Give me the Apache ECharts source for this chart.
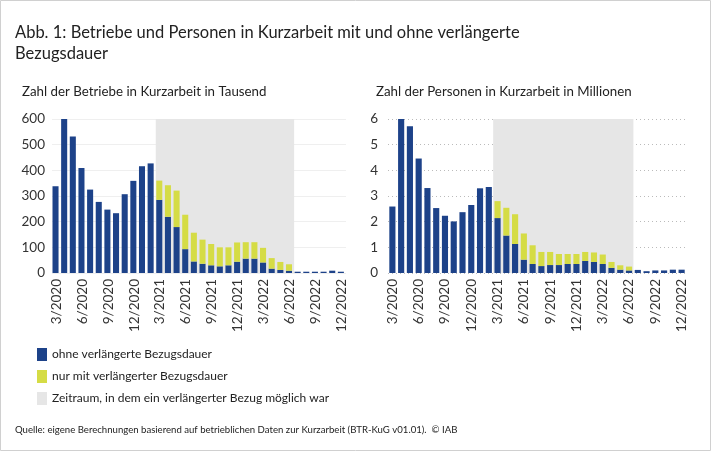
<!DOCTYPE html>
<html>
<head>
<meta charset="utf-8">
<script src="https://cdn.jsdelivr.net/npm/echarts@6/dist/echarts.min.js"></script>
<style>
  html, body { margin: 0; padding: 0; background: #fff; }
  #chart { width: 711px; height: 451px; }
</style>
</head>
<body>
<div id="chart"></div>
<script>
// months 3/2020 .. 12/2022
var months = [
  '3/2020','4/2020','5/2020','6/2020','7/2020','8/2020','9/2020','10/2020','11/2020','12/2020',
  '1/2021','2/2021','3/2021','4/2021','5/2021','6/2021','7/2021','8/2021','9/2021','10/2021','11/2021','12/2021',
  '1/2022','2/2022','3/2022','4/2022','5/2022','6/2022','7/2022','8/2022','9/2022','10/2022','11/2022','12/2022'
];

// Betriebe in Tausend
var betriebeOhne = [338,605,532,409,325,277,247,233,307,359,416,427,
  285,219,179,93,45,36,30,26,30,44,56,56,41,17,12,9,5,5,5,5,9,5];
var betriebeNurMit = [0,0,0,0,0,0,0,0,0,0,0,0,
  75,123,142,134,112,94,83,74,70,75,64,64,57,41,31,25,0,0,0,0,0,0];

// Personen in Millionen
var personenOhne = [2.59,6.0,5.72,4.46,3.31,2.53,2.23,2.01,2.37,2.65,3.30,3.35,
  2.14,1.46,1.13,0.52,0.35,0.27,0.31,0.31,0.35,0.35,0.47,0.43,0.35,0.20,0.13,0.10,0.12,0.07,0.10,0.10,0.13,0.13];
var personenNurMit = [0,0,0,0,0,0,0,0,0,0,0,0,
  0.66,1.08,1.16,1.02,0.73,0.55,0.51,0.43,0.39,0.39,0.35,0.37,0.37,0.23,0.17,0.15,0,0,0,0,0,0];

var shadeFrom = '3/2021';
var shadeTo = '6/2022';

var nameOhne = 'ohne verlängerte Bezugsdauer';
var nameMit = 'nur mit verlängerter Bezugsdauer';
var nameShade = 'Zeitraum, in dem ein verlängerter Bezug möglich war';

var blue = '#1d4289';
var yellow = '#d5dc45';
var grey = '#e6e6e6';
var font = 'Lato, sans-serif';

function zeroToDash(arr) {
  return arr.map(function (v) { return v === 0 ? '-' : v; });
}

var chart = echarts.init(document.getElementById('chart'));

function xCat(gridIndex) {
  return {
    type: 'category', gridIndex: gridIndex, data: months,
    axisLine: { show: false }, axisTick: { show: false, interval: 0 },
    axisLabel: {
      interval: 2, rotate: 90, margin: 6, fontSize: 13.5,
      color: '#333', fontFamily: font
    }
  };
}

// grey period, drawn behind the bars of one panel
function shadeArea(top) {
  return {
    silent: true,
    itemStyle: { color: grey },
    data: [[{ xAxis: shadeFrom, yAxis: 0 }, { xAxis: shadeTo, yAxis: top }]]
  };
}

var option = {
  backgroundColor: '#fff',
  animation: false,
  textStyle: { fontFamily: font },
  title: [
    {
      text: 'Abb. 1: Betriebe und Personen in Kurzarbeit mit und ohne verlängerte\nBezugsdauer',
      left: 10, top: 17,
      textStyle: { fontSize: 16.5, fontWeight: 'normal', color: '#222', lineHeight: 21, fontFamily: font }
    },
    {
      text: 'Zahl der Betriebe in Kurzarbeit in Tausend',
      left: 17, top: 80,
      textStyle: { fontSize: 13.3, fontWeight: 'normal', color: '#222', fontFamily: font }
    },
    {
      text: 'Zahl der Personen in Kurzarbeit in Millionen',
      left: 371, top: 80,
      textStyle: { fontSize: 13.3, fontWeight: 'normal', color: '#222', fontFamily: font }
    },
    {
      text: 'Quelle: eigene Berechnungen basierend auf betrieblichen Daten zur Kurzarbeit (BTR-KuG v01.01).  © IAB',
      left: 10, top: 420,
      textStyle: { fontSize: 9.6, fontWeight: 'normal', color: '#222', fontFamily: font }
    }
  ],
  legend: {
    orient: 'vertical', left: 32, top: 343, itemGap: 9,
    itemWidth: 10, itemHeight: 13, icon: 'rect',
    selectedMode: false,
    textStyle: { fontSize: 12, color: '#222', fontFamily: font },
    data: [nameOhne, nameMit, { name: nameShade, itemStyle: { color: grey } }]
  },
  graphic: [{
    type: 'rect', shape: { x: 0.5, y: 0.5, width: 710, height: 450 },
    style: { fill: 'none', stroke: '#d0d0d0', lineWidth: 1 }, silent: true
  }],
  grid: [
    { left: 52, top: 119, width: 294, height: 154 },
    { left: 388, top: 119, width: 298, height: 154 }
  ],
  xAxis: [xCat(0), xCat(1)],
  yAxis: [
    {
      type: 'value', gridIndex: 0, min: 0, max: 600, interval: 100,
      axisLine: { show: false }, axisTick: { show: false },
      axisLabel: { fontSize: 13.5, color: '#333', margin: 7, fontFamily: font },
      splitLine: { lineStyle: { color: '#efefef', width: 1 } }
    },
    {
      type: 'value', gridIndex: 1, min: 0, max: 6, interval: 1,
      axisLine: { show: false }, axisTick: { show: false },
      axisLabel: { fontSize: 13.5, color: '#333', margin: 10, fontFamily: font },
      splitLine: { lineStyle: { color: '#bbbbbb', type: [1, 3], width: 1 } }
    }
  ],
  series: [
    {
      name: nameOhne, type: 'bar', stack: 'b', xAxisIndex: 0, yAxisIndex: 0,
      data: betriebeOhne, barWidth: '70%', itemStyle: { color: blue },
      markArea: shadeArea(600)
    },
    {
      name: nameMit, type: 'bar', stack: 'b', xAxisIndex: 0, yAxisIndex: 0,
      data: zeroToDash(betriebeNurMit), barWidth: '70%', itemStyle: { color: yellow }
    },
    {
      name: nameOhne, type: 'bar', stack: 'p', xAxisIndex: 1, yAxisIndex: 1,
      data: personenOhne, barWidth: '70%', itemStyle: { color: blue },
      markArea: shadeArea(6)
    },
    {
      name: nameMit, type: 'bar', stack: 'p', xAxisIndex: 1, yAxisIndex: 1,
      data: zeroToDash(personenNurMit), barWidth: '70%', itemStyle: { color: yellow }
    },
    {
      // legend entry for the grey period
      name: nameShade, type: 'bar', xAxisIndex: 0, yAxisIndex: 0,
      data: [], itemStyle: { color: grey }
    }
  ]
};

chart.setOption(option);
</script>
</body>
</html>
